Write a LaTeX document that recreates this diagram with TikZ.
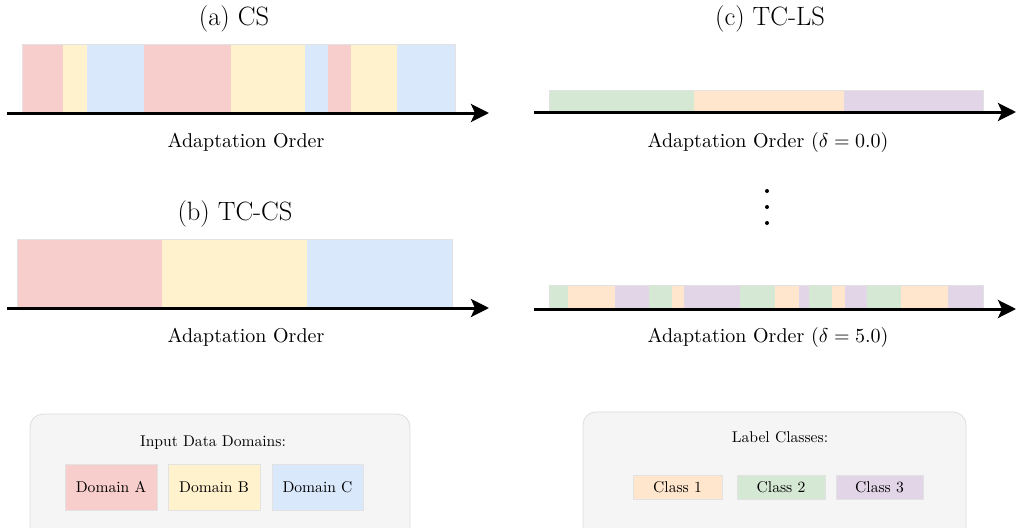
\documentclass[tikz,border=0pt]{standalone}
\usetikzlibrary{arrows.meta}
\definecolor{cA}{HTML}{F8CECC}
\definecolor{cB}{HTML}{FFF2CC}
\definecolor{cC}{HTML}{DAE8FC}
\definecolor{k1}{HTML}{FFE6CC}
\definecolor{k2}{HTML}{D5E8D4}
\definecolor{k3}{HTML}{E1D5E7}
\definecolor{legbg}{HTML}{F5F5F5}
\definecolor{legbd}{HTML}{DDDDDD}
\definecolor{segbd}{HTML}{E2E2E2}
\newcommand{\axtxt}[1]{\scalebox{2}{#1}}
\newcommand{\lgtxt}[1]{\scalebox{1.56}{#1}}
\tikzset{
  axis/.style={line width=3pt,-{Stealth[length=18pt,width=18pt,inset=4pt]}},
  titletext/.style={font=\fontsize{26.5}{31}\selectfont},
  axislabel/.style={inner sep=0pt},
  legendbox/.style={fill=legbg,draw=legbd,line width=0.8pt,rounded corners=13pt},
  legendtitle/.style={inner sep=0pt},
  legenditem/.style={draw=segbd,line width=0.6pt,inner sep=0pt},
  baroutline/.style={draw=segbd,line width=0.8pt},
}
\begin{document}
\begin{tikzpicture}[x=1pt,y=-1pt]
\useasboundingbox (0,0) rectangle (1016,527);

% (a) CS
\node[titletext] (ta) at (234,19) {(a) CS};
\foreach \a/\b/\c in {22/63/cA,63/87/cB,87/144/cC,144/231/cA,231/305/cB,305/328/cC,328/351/cA,351/397/cB,397/455/cC}
  \fill[\c] (\a,44) rectangle (\b,112);
\draw[baroutline] (22,112) -- (22,44) -- (455,44) -- (455,112);
\coordinate (a0) at (7,113);
\coordinate (a1) at (489,113);
\draw[axis] (a0) -- (a1);
\node[axislabel] (la) at (246,142) {\axtxt{Adaptation Order}};

% (b) TC-CS
\node[titletext] (tb) at (235,214) {(b) TC-CS};
\foreach \a/\b/\c in {17/162/cA,162/307/cB,307/452/cC}
  \fill[\c] (\a,239) rectangle (\b,307);
\draw[baroutline] (17,307) -- (17,239) -- (452,239) -- (452,307);
\coordinate (b0) at (7,308);
\coordinate (b1) at (489,308);
\draw[axis] (b0) -- (b1);
\node[axislabel] (lb) at (246,337) {\axtxt{Adaptation Order}};

% (c) TC-LS
\node[titletext] (tc) at (770,19) {(c) TC-LS};
\foreach \a/\b/\c in {549/694/k2,694/844/k1,844/983/k3}
  \fill[\c] (\a,90) rectangle (\b,111);
\draw[baroutline] (549,111) -- (549,90) -- (983,90) -- (983,111);
\coordinate (c0) at (534,112);
\coordinate (c1) at (1016,112);
\draw[axis] (c0) -- (c1);
\node[axislabel] (lc) at (768,142) {\axtxt{Adaptation Order ($\delta = 0.0$)}};

\foreach \y [count=\i] in {191,207,223}
  \fill (767,\y) circle (2pt) coordinate (dot\i);

\foreach \a/\b/\c in {549/568/k2,568/615/k1,615/649/k3,649/672/k2,672/684/k1,684/740/k3,740/775/k2,775/799/k1,799/809/k3,809/832/k2,832/845/k1,845/867/k3,867/901/k2,901/948/k1,948/983/k3}
  \fill[\c] (\a,285) rectangle (\b,308);
\draw[baroutline] (549,308) -- (549,285) -- (983,285) -- (983,308);
\coordinate (d0) at (534,309);
\coordinate (d1) at (1016,309);
\draw[axis] (d0) -- (d1);
\node[axislabel] (ld) at (768,337) {\axtxt{Adaptation Order ($\delta = 5.0$)}};

% Legend 1
\draw[legendbox] (30,414) rectangle (410,540);
\node[legendtitle] (lt1) at (213,443) {\lgtxt{Input Data Domains:}};
\node[legenditem,fill=cA,minimum width=92pt,minimum height=46pt] (dA) at (111,487) {\lgtxt{Domain A}};
\node[legenditem,fill=cB,minimum width=92pt,minimum height=46pt] (dB) at (214,487) {\lgtxt{Domain B}};
\node[legenditem,fill=cC,minimum width=91pt,minimum height=46pt] (dC) at (317.5,487) {\lgtxt{Domain C}};

% Legend 2
\draw[legendbox] (583,412) rectangle (966,540);
\node[legendtitle] (lt2) at (780,437) {\lgtxt{Label Classes:}};
\node[legenditem,fill=k1,minimum width=89pt,minimum height=24pt] (k1n) at (677.5,487) {\lgtxt{Class 1}};
\node[legenditem,fill=k2,minimum width=88pt,minimum height=24pt] (k2n) at (781,487) {\lgtxt{Class 2}};
\node[legenditem,fill=k3,minimum width=87pt,minimum height=24pt] (k3n) at (879.5,487) {\lgtxt{Class 3}};
\end{tikzpicture}
\end{document}
